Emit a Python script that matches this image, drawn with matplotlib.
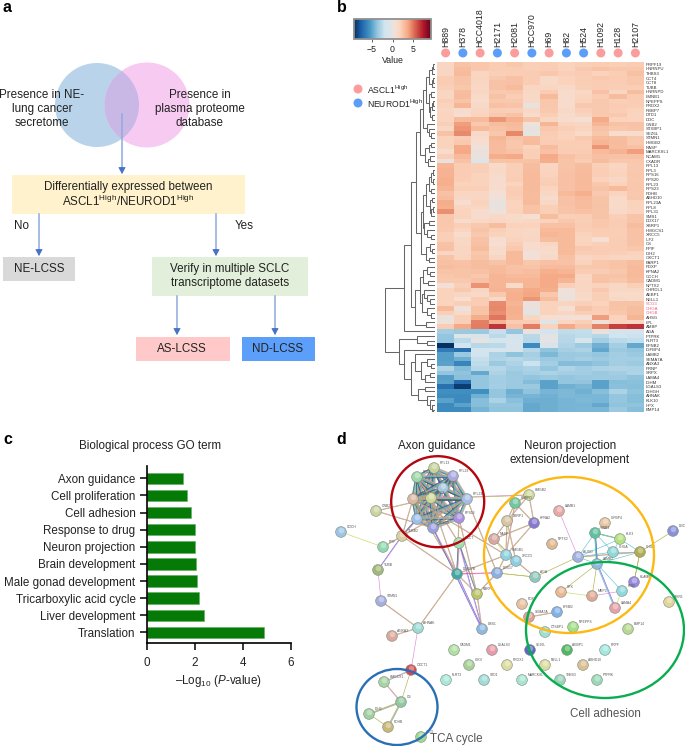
#!/usr/bin/env python3
"""Four panel secretome figure: flow chart, clustered heatmap, GO bars, STRING network."""
from itertools import combinations

import matplotlib
matplotlib.use("Agg")
import matplotlib.pyplot as plt
from matplotlib.cm import ScalarMappable
from matplotlib.colors import LinearSegmentedColormap, Normalize
from matplotlib.patches import Circle, Ellipse, Rectangle
import numpy as np

plt.rcParams["font.family"] = ["Liberation Sans", "DejaVu Sans"]
plt.rcParams["mathtext.fontset"] = "custom"
plt.rcParams["mathtext.rm"] = "Liberation Sans"
plt.rcParams["mathtext.it"] = "Liberation Sans:italic"

W, H = 685, 746
FS = 8.4
TXT = "#222222"

# ---- panel b data
CELL_LINES = ["H889", "H378", "HCC4018", "H2171", "H2081", "HCC970", "H69", "H82",
              "H524", "H1092", "H128", "H2107"]
SUBTYPE = ["A", "N", "A", "N", "A", "N", "A", "N", "N", "A", "A", "A"]
GENES = ["PRPF19", "HNRNPU", "THBS3", "CCT4", "CCT8", "TUBB", "HNRNPD", "LMNB1", "NPEPPS",
         "PRDX2", "RBBP7", "DTD1", "DDC", "GNB2", "STXBP1", "SEZ6L", "STMN1", "HMGB2", "NASP",
         "MARCKSL1", "NCAM1", "CXADR", "RPL13", "RPL3", "RPS16", "RPS20", "RPL23", "RPS23",
         "PDHB", "ABHD10", "RPL23A", "RPL8", "RPL31", "SMS1", "DDX17", "XBRP1", "HMGCS1",
         "XRCC5", "ILF2", "CS", "PPIF", "IDH2", "OXCT1", "PARP1", "PDXP", "KPNA2", "COCH",
         "CADM1", "NPTX2", "CHRDL1", "AEBP1", "NELL1", "SCG3", "CHGA", "CHGB", "AHSG", "LPL",
         "AMBP", "AGA", "PTPRK", "FLRT3", "EFNB2", "IGFBP4", "LAMB2", "SEMA7A", "ANXA3", "PRNP",
         "SRPX", "LAMA4", "IGHM", "LGALS3", "IGHGH", "AHNAK", "KLK10", "HPX", "BMP14"]
PINK_GENES = ["SCG3", "CHGA", "CHGB"]

EXPR_UP_1 = [
    [1.5, 2.6, 2.4, 2.2, 2.4, 2.0, 2.1, 1.8, 2.0, 2.2, 2.0, 2.2],
    [1.5, 2.8, 2.4, 2.2, 2.2, 2.0, 2.1, 1.9, 2.3, 2.6, 2.4, 2.4],
    [1.5, 3.0, 1.6, 2.0, 2.1, 2.2, 2.4, 2.0, 2.2, 1.9, 2.1, 2.7],
    [2.2, 2.5, 1.7, 2.3, 2.7, 2.2, 1.3, 1.9, 2.1, 2.3, 2.2, 2.4],
    [2.2, 2.5, 1.5, 2.6, 2.7, 2.2, 1.3, 1.9, 2.1, 2.2, 2.2, 2.4],
    [2.0, 2.4, 1.4, 2.6, 2.9, 1.6, 1.6, 1.3, 2.0, 2.2, 2.1, 2.1],
    [1.6, 2.8, 1.5, 2.3, 2.4, 1.4, 2.2, 1.1, 1.4, 2.7, 1.5, 2.8],
    [1.6, 2.9, 1.2, 2.6, 2.1, 1.3, 3.0, 1.0, 1.7, 2.2, 2.9, 2.2],
    [2.0, 2.5, 1.1, 2.3, 2.3, 1.3, 2.4, 1.1, 1.9, 2.3, 2.0, 2.2],
    [1.8, 3.1, 1.3, 2.7, 2.5, 0.2, 2.4, 1.1, 2.3, 2.3, 2.2, 2.1],
    [1.5, 1.0, 1.5, 2.1, 2.0, 1.4, 2.3, 1.3, 2.0, 2.3, 2.1, 1.8],
    [1.7, 0.9, 1.7, 2.3, 2.6, 1.0, 2.1, 1.0, 1.7, 2.3, 2.3, 1.7],
    [1.7, 3.0, 3.0, 4.2, 3.4, 2.5, 1.6, 1.0, 0.7, 3.6, 1.9, 1.7],
    [2.0, 4.0, 2.3, 2.8, 3.0, 0.4, 3.2, 1.7, 1.6, 3.2, 2.6, 2.6],
    [1.4, 4.2, 3.0, 2.6, 2.8, 0.2, 2.4, 2.0, 1.7, 2.6, 2.4, 2.5],
    [2.6, 4.5, 1.3, 2.4, 4.6, 0.1, 2.2, 1.9, 1.2, 2.4, 1.0, 1.0],
    [1.8, 2.2, 1.0, 3.1, 2.5, 2.8, 2.1, 1.9, 2.3, 3.0, 2.8, 2.4],
    [1.8, 2.3, 0.9, 3.0, 2.4, 2.9, 2.2, 2.1, 2.2, 3.2, 2.9, 2.3],
    [1.8, 3.6, 0.5, 2.9, 2.4, 1.9, 2.9, 2.1, 2.1, 4.2, 2.8, 2.7],
    [1.1, 3.7, 0.3, 2.9, 2.6, 2.0, 2.7, 2.2, 2.2, 3.0, 3.3, 4.0],
    [2.0, 3.0, 0.3, 3.5, 3.7, 2.0, 3.6, 2.7, 2.3, 2.7, 2.6, 2.7],
    [0.3, 2.6, -0.9, 2.5, 2.6, 2.6, 3.5, 2.5, 2.2, 2.8, 2.4, 2.4],
]
EXPR_UP_2 = [
    [3.1, 2.2, 2.0, 1.2, 2.0, 2.8, 1.6, 2.5, 2.8, 2.0, 1.6, 2.3],
    [3.3, 2.2, 2.0, 1.3, 2.0, 2.9, 1.7, 2.6, 2.9, 2.1, 1.7, 2.3],
    [3.3, 2.2, 1.9, 1.2, 2.0, 3.0, 1.9, 2.7, 3.0, 2.1, 1.8, 2.4],
    [3.4, 2.1, 1.8, 1.1, 2.1, 3.0, 2.0, 2.7, 3.0, 1.9, 1.4, 2.3],
    [3.4, 1.9, 1.9, 1.1, 1.7, 3.0, 2.1, 2.7, 3.0, 2.4, 1.9, 2.4],
    [3.2, 2.0, 2.0, 1.0, 2.1, 3.0, 1.7, 2.7, 3.0, 2.5, 3.0, 2.4],
    [2.7, 1.5, 1.5, 0.6, 2.2, 2.9, 1.4, 3.0, 3.4, 2.3, 1.7, 2.3],
    [2.8, 1.4, 1.5, 0.4, 2.0, 2.9, 1.1, 2.6, 3.0, 2.5, 1.2, 2.4],
    [3.5, 0.9, 1.8, 0.3, 1.7, 3.0, 1.4, 2.7, 2.9, 2.5, 1.2, 1.8],
    [3.4, 1.6, 1.6, 0.2, 1.7, 2.5, 2.0, 2.5, 2.9, 2.6, 1.2, 1.8],
    [4.4, 1.9, 1.0, 0.4, 1.8, 2.6, 2.0, 2.5, 2.7, 2.5, 1.3, 1.7],
    [2.4, 1.8, 1.0, 1.3, 1.2, 0.8, 2.8, 2.0, 2.1, 2.5, 2.0, 2.5],
    [2.4, 1.1, 1.4, 1.5, 1.3, 1.6, 1.9, 2.4, 2.0, 2.4, 2.2, 2.5],
    [2.4, 2.0, 2.3, 2.8, 1.9, 1.9, 2.7, 2.7, 2.2, 2.4, 2.2, 2.8],
    [2.3, 1.7, 2.5, 2.0, 1.5, 1.4, 3.0, 3.0, 2.1, 2.2, 2.1, 2.6],
    [2.0, 1.0, 2.3, 1.8, 1.6, 1.4, 3.1, 3.0, 1.8, 2.1, 2.1, 2.6],
    [2.0, 1.4, 2.6, 0.9, 1.8, 1.5, 2.8, 3.0, 1.7, 0.8, 2.2, 2.6],
    [2.6, 1.4, 2.7, 0.8, 2.1, 1.0, 1.6, 3.0, 1.7, 2.0, 2.2, 2.6],
    [2.7, 1.6, 2.8, 1.2, 2.3, 1.0, 1.2, 3.0, 2.3, 2.2, 2.2, 2.4],
    [1.5, 1.5, 2.4, 1.1, 3.0, 0.5, 1.1, 3.0, 2.1, 2.2, 2.0, 1.9],
    [2.5, 1.7, 2.5, 1.5, 3.0, 0.6, 1.3, 2.7, 1.5, 1.8, 1.6, 1.6],
]
EXPR_UP_3 = [
    [2.7, 2.6, 2.8, 2.5, 3.0, 2.4, 2.7, 2.6, 1.8, 2.4, 2.5, 2.8],
    [2.8, 2.7, 2.8, 2.9, 2.6, 2.5, 2.9, 2.9, 2.4, 2.4, 2.5, 3.0],
    [2.5, 2.5, 2.7, 3.0, 2.7, 2.8, 3.4, 3.2, 2.2, 2.2, 2.4, 3.0],
    [2.4, 2.5, 2.4, 3.2, 3.0, 3.0, 3.6, 3.6, 1.5, 2.5, 2.5, 3.0],
    [2.3, 2.3, 2.7, 3.2, 3.1, 3.2, 3.6, 3.2, 1.5, 2.6, 2.4, 2.8],
    [0.6, 2.0, 4.3, 3.2, 1.2, 3.2, 3.6, 2.0, 1.6, 1.8, 1.4, 2.0],
    [1.8, 2.3, 1.5, 3.3, 3.3, 3.7, 3.5, 0.5, 1.5, 2.3, 1.4, 1.4],
    [1.8, 1.6, 1.3, 2.3, 3.4, 3.8, 2.4, 0.4, 1.3, 2.0, 1.2, 1.2],
    [1.8, 0.8, 2.2, 1.3, 3.4, 4.2, 2.8, 0.3, 1.2, 2.0, 1.4, 1.2],
    [1.7, 2.0, 2.2, 4.5, 3.2, 0.3, 1.8, 1.7, 2.0, 1.9, 2.6, 2.6],
    [3.0, 0.4, 2.6, 4.6, 3.4, 0.3, 1.9, 0.7, 2.5, 2.2, 2.5, 2.8],
    [2.0, 1.2, 2.5, 4.4, 3.4, -0.4, 1.8, 1.5, 2.1, 2.0, 2.4, 2.8],
    [0.3, 2.0, 3.5, 5.0, 3.3, 1.6, 0.8, 0.6, 0.6, 4.0, 1.9, 3.2],
    [0.4, 2.0, 4.8, 3.3, 2.2, 2.2, -0.5, 1.6, 2.0, 0.4, 1.7, 1.5],
    [2.2, 3.7, 4.9, 6.7, 2.7, 4.9, 1.8, 3.7, 2.5, 4.7, 6.4, 6.8],
]
EXPR_DOWN = [
    [-3.3, -3.5, -3.5, -2.2, -3.6, 0.2, -1.8, -2.4, -2.3, 0.3, -1.5, -1.6],
    [-3.6, -0.5, -1.0, -2.5, -1.5, -2.6, 0.0, -2.6, -2.4, -2.7, -1.9, -2.0],
    [-3.7, -2.5, 0.0, -1.3, -1.2, -2.7, 0.0, -2.7, -1.2, -3.3, -2.5, -2.3],
    [-9.4, -1.8, -2.6, -2.5, -1.3, -6.0, -1.0, -2.8, -3.4, -4.5, -3.2, -4.8],
    [-6.6, -7.0, -1.5, -1.4, -1.2, -2.7, -3.8, -3.1, -3.0, -4.9, -3.5, -3.7],
    [-5.2, -3.5, -1.8, -3.0, -3.8, -3.1, -4.2, -3.5, -3.4, -3.6, -3.3, -3.5],
    [-5.2, -4.6, -2.2, -2.8, -2.6, -3.0, -3.5, -3.4, -3.2, -3.4, -3.2, -3.2],
    [-5.0, -6.2, -2.4, -3.5, -2.9, -2.0, -3.2, -4.1, -4.0, -3.8, -3.3, -3.4],
    [-2.8, -4.1, -2.7, -2.7, -3.2, -3.0, -3.6, -2.8, -3.3, -3.0, -2.8, -3.0],
    [-3.7, -3.8, -4.8, -2.9, -3.5, -3.1, -3.0, -3.2, -3.3, -3.5, -3.3, -2.9],
    [-5.2, -3.9, -3.6, -3.2, -3.4, -3.7, -3.5, -3.6, -3.5, -3.4, -3.4, -3.8],
    [-5.0, -7.3, -3.6, -3.3, -3.4, -4.1, -5.0, -3.6, -3.7, -5.0, -4.0, -3.9],
    [-7.0, -8.9, -3.6, -3.2, -3.5, -3.5, -5.0, -4.5, -4.3, -5.0, -3.9, -4.0],
    [-5.8, -5.8, -5.8, -3.6, -4.6, -3.8, -4.4, -4.2, -4.5, -4.0, -3.0, -3.8],
    [-6.0, -6.0, -4.5, -3.6, -4.4, -4.4, -4.5, -4.2, -4.3, -4.3, -3.6, -4.0],
    [-5.0, -6.0, -4.0, -3.0, -3.9, -4.6, -4.6, -4.4, -4.2, -4.3, -3.6, -4.0],
    [-6.0, -5.0, -4.0, -3.6, -3.6, -4.8, -4.6, -4.4, -4.4, -4.8, -3.8, -3.8],
    [-6.0, -6.0, -4.4, -3.8, -3.8, -4.8, -4.6, -4.4, -4.3, -4.3, -3.5, -4.0],
]

# dendrogram as nested (height, upper, lower); L is a leaf
L = None
TREE_A = (6, (3, (2, L, L), L), (3.5, (2, L, L), L))
TREE_B = (6.5, (4, L, L), (5, (3, (2, L, L), L), (3, L, L)))
TREE_C = (8, L, (6, L, (4, L, L)))
TREE_D = (10, (6, (4, L, L), L), (7, (5, L, L), L))
TREE_TOP = (15, (12, (9, TREE_A, TREE_B), TREE_C), TREE_D)
TREE_RIB = (9, (6, (4, (2, L, L), (2.5, L, L)), (4, L, L)),
            (5, (3, L, L), (4, (2, L, L), L)))
TREE_S = (11, (6, L, L), (8, L, (4, L, L)))
TREE_T = (9, (5, L, (3, L, L)), (6, L, L))
TREE_MID = (14, (12, TREE_RIB, TREE_S), TREE_T)
TREE_U = (12, (8, L, (5, L, L)), (7, L, L))
TREE_V = (11, L, (8, L, (5, L, L)))
TREE_W = (8, L, (4, L, L))
TREE_LOW = (20, (15, TREE_U, (13, TREE_V, TREE_W)), (9, L, L))
TREE_UP = (31, (24, (19, TREE_TOP, TREE_MID), TREE_LOW), L)
TREE_BLUE_1 = (20, L, (14, (8, L, (4, L, L)), (10, (5, L, L), L)))
TREE_BLUE_2 = (17, (10, L, L), (8, L, (5, L, (3, L, (2, L, L)))))
TREE_DOWN = (36, (18, L, (8, L, L)), (31, L, (24, TREE_BLUE_1, TREE_BLUE_2)))
TREE = (50, TREE_UP, TREE_DOWN)

# ---- panel c data
GO_TERMS = ["Axon guidance", "Cell proliferation", "Cell adhesion", "Response to drug",
            "Neuron projection", "Brain development", "Male gonad development",
            "Tricarboxylic acid cycle", "Liver development", "Translation"]
GO_LOGP = [1.5, 1.68, 1.85, 2.0, 2.03, 2.04, 2.1, 2.16, 2.4, 4.9]

# ---- panel d data, node positions as laid out on the page
NODE_NAMES = ["RPL13", "RPL3", "RPL23", "RPS3", "RPS20", "RPL8", "RPL23A", "RPL31", "RPS16", "RPS23",
              "GNB2", "COCH", "TUBB2", "PPIF", "TUBB", "STMN1", "OXCT", "DDX17B", "AHNAK", "ANXA3",
              "OXCT1", "HMGCS1", "CS", "IDH2", "PDHB", "ACO", "DBS1", "PARP1", "LAMB1", "HMGB2",
              "HNRPD", "XBRP1", "KPNA2", "NASP", "NPTX2", "HMGB1", "XRCC5", "DDX17", "AGA", "IGFBP4",
              "GNB3", "KLK3", "CHGA", "CHGB", "DDC", "AUSO", "LAMB2", "HLAMP", "PPIB", "HPX",
              "MMP2", "AKR1", "LAMA4", "BMP14", "PDXP", "SEMA7A", "EFNB2", "CTSBP1", "NPEPPS",
              "CADM1", "LGALS3", "SEZ6L", "AEBP1", "PRPF", "IGKV", "PROX2", "NELL1", "ABHD10",
              "FLRT3", "STD1", "MARCKSL", "THBS3", "PTPRK"]
NODE_X = [434, 417, 453, 443, 413, 431, 467, 417, 459, 433, 376, 341, 402, 383, 378, 381, 459, 457, 418, 392,
          411, 384, 401, 369, 388, 421, 482, 477, 559, 529, 515, 507, 534, 494, 552, 506, 516, 497, 535, 605,
          595, 620, 613, 640, 673, 578, 597, 634, 622, 561, 592, 669, 615, 628, 522, 529, 557, 545, 573,
          454, 492, 530, 567, 605, 469, 507, 545, 583, 446, 484, 522, 560, 597]
NODE_Y = [468, 477, 476, 488, 499, 498, 499, 519, 518, 528, 511, 532, 536, 547, 570, 601, 543, 574, 628, 636,
          670, 682, 702, 714, 727, 737, 629, 594, 511, 495, 503, 521, 523, 539, 544, 555, 561, 573, 577, 523,
          533, 539, 552, 552, 531, 557, 564, 582, 591, 592, 596, 602, 608, 629, 604, 617, 612, 632, 627,
          650, 650, 650, 650, 650, 665, 665, 665, 665, 680, 680, 680, 680, 680]
NODE_COLORS = ["#c6d49a", "#9ed8a8", "#a9a9e0", "#a5c8e0", "#d8b9a0", "#d0d89a", "#a5bde5", "#9dc0ea", "#a990e0", "#9a9ee0",
               "#cdd3a0", "#9dc4e4", "#d8cfa0", "#90d8b0", "#a0b878", "#a5aee0", "#a0e0b0", "#40a8a0", "#9adcd4", "#dba89a",
               "#d84850", "#a5d4a0", "#90c8a0", "#a0d0a0", "#c8b878", "#a0d890", "#8eb8e0", "#bcc468", "#e8a8a8", "#d0d89a",
               "#70c8a0", "#d8c4a0", "#8878d0", "#d8a8a0", "#e0b890", "#90d0e0", "#8ecce0", "#8eaee0", "#90c8c0", "#e8c4a0",
               "#60c0a0", "#b4e080", "#90d8d8", "#b0ac50", "#8890d8", "#a0b0e0", "#90b8e0", "#9888e0", "#90d8e0", "#e8b890",
               "#e0a890", "#e0d498", "#e8a0a8", "#b8d890", "#e8c0a0", "#e0a098", "#80b0e8", "#a0e0d0", "#a0e088",
               "#b0e0a0", "#e89aa8", "#5868c0", "#50b860", "#a0e8e0", "#a8d098", "#dcdca0", "#dcdca0", "#d8c090",
               "#a8e8d8", "#a0dcd8", "#a8e4d0", "#98d4b8", "#98d8b8"]

RING_GROUP = NODE_NAMES[:10]
EDGE_FROM = ["COCH", "PPIF", "TUBB2", "TUBB", "STMN1", "AHNAK", "AHNAK", "AHNAK", "OXCT1", "OXCT1",
             "HMGCS1", "CS", "CS", "IDH2", "CS", "RPL8", "RPS20", "RPS23", "RPL31", "RPS16", "RPS16", "RPS23",
             "RPL23A", "RPS20", "GNB2", "GNB2", "TUBB2", "TUBB2", "OXCT", "OXCT", "OXCT", "DDX17B", "DDX17B",
             "DDX17B", "DDX17B", "DDX17B", "DDX17", "OXCT", "DDX17B", "PARP1", "RPS20", "HMGB2", "HMGB2",
             "HMGB2", "HNRPD", "HNRPD", "HNRPD", "XBRP1", "XBRP1", "XBRP1", "NASP", "NASP", "KPNA2", "KPNA2",
             "HMGB1", "HMGB1", "XRCC5", "DDX17", "LAMB1", "AGA", "XRCC5", "AGA", "GNB3", "GNB3", "GNB3",
             "GNB3", "KLK3", "KLK3", "CHGA", "IGFBP4", "AUSO", "AUSO", "AUSO", "AUSO", "AUSO", "LAMB2", "LAMB2",
             "LAMB2", "LAMB2", "LAMB2", "LAMB2", "CHGB", "CHGB", "CHGB", "HPX", "MMP2", "HLAMP", "LAMA4",
             "SEMA7A", "CTSBP1", "DDC", "HLAMP", "GNB2"]
EDGE_TO = ["PPIF", "TUBB2", "RPL31", "TUBB2", "TUBB", "STMN1", "DDX17B", "ANXA3", "AHNAK", "HMGCS1",
           "CS", "OXCT1", "IDH2", "PDHB", "PDHB", "DDX17B", "DDX17B", "DDX17B", "TUBB2", "DDX17B", "PARP1", "DBS1",
           "DDX17", "HMGB1", "RPS23", "RPL8", "RPL23A", "RPS20", "DDX17B", "PARP1", "DBS1", "DDX17", "DDX17B",
           "PARP1", "DBS1", "HMGB1", "PARP1", "RPL3", "TUBB2", "DBS1", "HMGB2", "HNRPD", "KPNA2",
           "XBRP1", "XBRP1", "HMGB1", "KPNA2", "NASP", "HMGB1", "XRCC5", "HMGB1", "XRCC5", "NASP", "HMGB1",
           "XRCC5", "DDX17", "DDX17", "AGA", "AUSO", "AUSO", "AGA", "DDX17", "KLK3", "KLK3", "CHGA",
           "LAMB2", "CHGA", "CHGB", "CHGB", "GNB3", "GNB3", "KLK3", "CHGA", "CHGB", "LAMB2", "GNB3", "CHGA",
           "LAMA4", "MMP2", "PPIB", "HPX", "DDC", "HLAMP", "LAMB2", "MMP2", "PPIB", "CHGB", "PPIB",
           "EFNB2", "NPEPPS", "CHGB", "AKR1", "RPS3"]
EDGE_KIND = ["y", "po", "b", "bp", "p", "po", "po", "po", "p", "gp",
             "op", "o", "gpo", "o", "gpo", "po", "po", "po", "pob", "po", "po", "pb",
             "po", "po", "po", "po", "po", "po", "pob", "ob", "bp", "rp", "po",
             "po", "bp", "po", "po", "po", "po", "po", "po", "po", "po",
             "po", "po", "po", "po", "po", "po", "po", "y", "po", "po", "po",
             "po", "po", "po", "y", "p", "o", "po", "o", "go", "c", "c",
             "gc", "c", "c", "c", "o", "c", "c", "c", "po", "c", "gcb", "c",
             "bpc", "o", "c", "o", "o", "o", "c",
             "y", "p", "o", "y", "po"]

# ---- flow chart text and colours
VENN_LEFT = ["Presence in NE-", "lung cancer", "secretome"]
VENN_RIGHT = ["Presence in", "plasma proteome", "database"]


def px_axes(fig, x0, y0, x1, y1):
    """Axes placed by page pixels, y counted from the top."""
    return fig.add_axes([x0 / W, 1 - y1 / H, (x1 - x0) / W, (y1 - y0) / H])


def draw_tree(ax, node, next_leaf):
    """Walk the nested merges, returns (row, height) of this node."""
    if node is None:
        row = next_leaf[0]
        next_leaf[0] += 1
        return row, 0
    h, upper, lower = node
    y1, h1 = draw_tree(ax, upper, next_leaf)
    y2, h2 = draw_tree(ax, lower, next_leaf)
    ax.plot([h1, h, h, h2], [y1, y1, y2, y2], color="#666666", lw=0.75, solid_joinstyle="miter")
    return (y1 + y2) / 2, h


def flow_box(ax, x0, y0, x1, y1, color):
    ax.add_patch(Rectangle((x0, y0), x1 - x0, y1 - y0, fc=color, ec="none", zorder=1))


def flow_arrow(ax, x, y0, y1):
    ax.plot([x, x], [y0, y1 - 5], color="#8faadc", lw=1.1, zorder=3)
    ax.annotate("", xy=(x, y1), xytext=(x, y1 - 6.5), zorder=3,
                arrowprops=dict(arrowstyle="-|>,head_width=0.22,head_length=0.4",
                                color="#4472c4", lw=0.6, shrinkA=0, shrinkB=0))


def main():
    fig = plt.figure(figsize=(W / 100, H / 100), dpi=100, facecolor="white")

    page = fig.add_axes([0, 0, 1, 1], zorder=0)
    page.set_xlim(0, W)
    page.set_ylim(H, 0)
    page.axis("off")

    for label, x, y in [("a", 3, 8), ("b", 337, 8), ("c", 3, 440), ("d", 336, 439)]:
        page.text(x, y, label, fontsize=11.5, fontweight="bold", color="black", va="center")

    # panel a
    blue = Circle((97, 105), 42, fc="#b9d4ea", ec="none", zorder=1)
    pink = Circle((147, 105), 42.5, fc="#f7caf1", ec="none", zorder=1)
    page.add_patch(blue)
    page.add_patch(pink)
    overlap = Circle((147, 105), 42.5, fc="#c9b7e5", ec="none", zorder=1.5)
    page.add_patch(overlap)
    overlap.set_clip_path(Circle((97, 105), 42, transform=page.transData))

    for i, line in enumerate(VENN_LEFT):
        page.text(42, 95 + i * 14, line, ha="center", va="center", fontsize=FS, color=TXT, zorder=4)
    for i, line in enumerate(VENN_RIGHT):
        page.text(200, 95 + i * 14, line, ha="center", va="center", fontsize=FS, color=TXT, zorder=4)

    flow_box(page, 12, 175, 245, 214, "#fff2cc")
    flow_box(page, 3, 257, 75, 281, "#d9d9d9")
    flow_box(page, 152, 257, 308, 296, "#e2efda")
    flow_box(page, 136, 337, 230, 361, "#ffc9c9")
    flow_box(page, 242, 337, 315, 361, "#5b9ffa")
    flow_arrow(page, 122, 114, 174)
    flow_arrow(page, 39, 214, 256)
    flow_arrow(page, 216, 214, 256)
    flow_arrow(page, 177, 296, 335)
    flow_arrow(page, 275, 296, 335)
    for x, y, s in [(128, 187, "Differentially expressed between"),
                    (128, 201, r"ASCL1$^{\mathrm{High}}$/NEUROD1$^{\mathrm{High}}$"),
                    (22, 226, "No"), (244, 226, "Yes"), (39, 269, "NE-LCSS"),
                    (230, 269, "Verify in multiple SCLC"), (230, 283, "transcriptome datasets"),
                    (182, 349, "AS-LCSS"), (278, 349, "ND-LCSS")]:
        page.text(x, y, s, ha="center", va="center", fontsize=FS, color=TXT, zorder=4)

    # panel b, grey centre with a quick step into peach
    cmap = LinearSegmentedColormap.from_list(
        "rdbu_grey", [(0.0, "#053061"), (0.1, "#2166ac"), (0.2, "#4393c3"), (0.3, "#92c5de"),
                      (0.4, "#d1e5f0"), (0.5, "#e4e4e4"), (0.54, "#f6dfd3"), (0.6, "#fbd3bc"),
                      (0.7, "#f5a985"), (0.8, "#d6604d"), (0.9, "#b2182b"), (1.0, "#67001f")])
    norm = Normalize(-9.4, 9.4)
    expr = np.array(EXPR_UP_1 + EXPR_UP_2 + EXPR_UP_3 + EXPR_DOWN)

    heat = px_axes(fig, 437, 62, 644, 412)
    heat.imshow(expr, cmap=cmap, norm=norm, aspect="auto", interpolation="nearest")
    heat.set_xticks(range(len(CELL_LINES)), CELL_LINES, rotation=90, fontsize=6.3, color=TXT)
    heat.xaxis.tick_top()
    heat.set_yticks(range(len(GENES)), GENES, fontsize=3.1, color="#333333")
    heat.yaxis.tick_right()
    heat.tick_params(length=0)
    heat.tick_params(axis="x", pad=11)
    heat.tick_params(axis="y", pad=1.2)
    for tick, gene in zip(heat.get_yticklabels(), GENES):
        if gene in PINK_GENES:
            tick.set_color("#e8607c")
    for s in heat.spines.values():
        s.set_visible(False)
    dot_colors = ["#fb9d9d" if g == "A" else "#5a9ef8" for g in SUBTYPE]
    heat.scatter(range(len(CELL_LINES)), [-2.46] * len(CELL_LINES), s=42, c=dot_colors,
                 linewidths=0, clip_on=False)
    heat.set_xlim(-0.5, 11.5)
    heat.set_ylim(75.5, -0.5)

    den = px_axes(fig, 385, 62, 435, 412)
    draw_tree(den, TREE, [0])
    den.set_xlim(50, 0)
    den.set_ylim(75.5, -0.5)
    den.axis("off")

    cax = px_axes(fig, 354, 19, 431, 39)
    cb = fig.colorbar(ScalarMappable(norm=norm, cmap=cmap), cax=cax, orientation="horizontal")
    cb.set_ticks([-5, 0, 5], labels=["\u22125", "0", "5"])
    cb.ax.tick_params(labelsize=6.3, length=2.5, width=0.5, pad=1.5, colors=TXT)
    cb.set_label("Value", fontsize=6.3, color=TXT, labelpad=1.5)
    cb.outline.set_edgecolor("#909090")
    cb.outline.set_linewidth(1.3)

    page.scatter([358, 358], [89, 103], s=42, c=["#fb9d9d", "#5a9ef8"], linewidths=0, zorder=3)
    page.text(367, 90, r"ASCL1$^{\mathrm{High}}$", fontsize=6.2, va="center", color=TXT)
    page.text(367, 104, r"NEUROD1$^{\mathrm{High}}$", fontsize=6.2, va="center", color=TXT)

    # panel c
    bars = px_axes(fig, 146.7, 466, 290.7, 643.3)
    ypos = np.arange(len(GO_TERMS))
    bars.barh(ypos, GO_LOGP, height=0.67, color="#067a06", edgecolor="#5fae5f", linewidth=0.4)
    bars.set_xlim(0, 6)
    bars.set_ylim(9.64, -0.72)
    bars.set_yticks(ypos, GO_TERMS, fontsize=FS, color=TXT)
    bars.set_xticks([0, 2, 4, 6])
    bars.tick_params(axis="x", labelsize=FS, length=5, width=1.1, pad=5, labelcolor=TXT)
    bars.tick_params(axis="y", length=5, width=1.1, pad=3)
    bars.spines[["top", "right"]].set_visible(False)
    bars.spines[["left", "bottom"]].set_linewidth(1.2)
    bars.set_xlabel(r"–Log$_{10}$ ($\mathit{P}$-value)", fontsize=FS, color=TXT, labelpad=2.5)
    page.text(150, 446, "Biological process GO term", ha="center", va="center", fontsize=FS, color=TXT)

    # panel d
    idx = {n: i for i, n in enumerate(NODE_NAMES)}
    edge_cols = {"p": "#dc8cdc", "o": "#b0b048", "g": "#60bc70", "c": "#60c4dc", "b": "#4868d4",
                 "r": "#e03060", "y": "#c8d860", "k": "#555555"}
    pairs = [(a, b, "pogcbk") for a, b in combinations(RING_GROUP, 2)]
    pairs += list(zip(EDGE_FROM, EDGE_TO, EDGE_KIND))
    for a, b, kind in pairs:
        xa, ya, xb, yb = NODE_X[idx[a]], NODE_Y[idx[a]], NODE_X[idx[b]], NODE_Y[idx[b]]
        length = max(np.hypot(xb - xa, yb - ya), 1)
        nx, ny = -(yb - ya) / length, (xb - xa) / length
        for k, ch in enumerate(kind):
            off = (k - (len(kind) - 1) / 2) * 0.55
            page.plot([xa + nx * off, xb + nx * off], [ya + ny * off, yb + ny * off],
                      color=edge_cols[ch], lw=0.45, zorder=1.5, solid_capstyle="butt")

    page.scatter(NODE_X, NODE_Y, s=60, c=NODE_COLORS, edgecolors="#7f8a80", linewidths=0.4, zorder=2)
    page.scatter(np.array(NODE_X), np.array(NODE_Y) - 2, s=16, c="white", alpha=0.35, linewidths=0, zorder=2.1)
    for name, x, y in zip(NODE_NAMES, NODE_X, NODE_Y):
        page.text(x + 5.5, y - 5, name, fontsize=2.4, color="#555555", va="center", zorder=2.2)

    rings = [((437.7, 501.7), 93, 91, "#b3060e"), ((569, 555), 170, 156, "#fdb813"),
             ((605, 630), 158, 136, "#0aac50"), ((397, 707), 81, 76, "#2a6fb3")]
    for center, w, h, col in rings:
        page.add_patch(Ellipse(center, w, h, fc="none", ec=col, lw=1.7, zorder=3))

    page.text(437, 446, "Axon guidance", ha="center", va="center", fontsize=FS, color=TXT)
    page.text(570, 446, "Neuron projection", ha="center", va="center", fontsize=FS, color=TXT)
    page.text(570, 460, "extension/development", ha="center", va="center", fontsize=FS, color=TXT)
    page.text(605, 714, "Cell adhesion", ha="center", va="center", fontsize=FS, color="#555555")
    page.text(430, 739, "TCA cycle", ha="left", va="center", fontsize=FS, color="#555555")

    fig.savefig("out.png", dpi=100)
    plt.close(fig)


if __name__ == "__main__":
    main()
